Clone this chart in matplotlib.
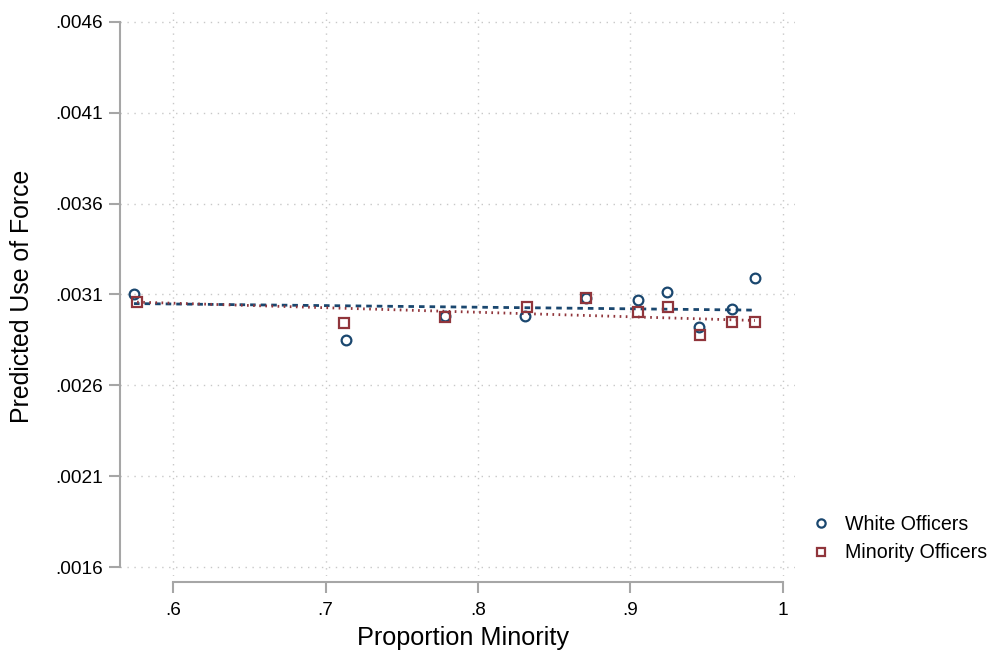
import matplotlib
matplotlib.use("Agg")
import matplotlib.pyplot as plt
import numpy as np

plt.rcParams['font.family'] = ['Liberation Sans', 'DejaVu Sans']

# Data
white_x = [0.5744, 0.7134, 0.7784, 0.8308, 0.8708, 0.9050, 0.9240, 0.9450, 0.9666, 0.9816]
white_y = [0.003102, 0.002850, 0.002979, 0.002980, 0.003083, 0.003072, 0.003113, 0.002920, 0.003022, 0.003192]
minority_x = [0.5764, 0.7121, 0.7784, 0.8321, 0.8708, 0.9050, 0.9246, 0.9456, 0.9666, 0.9816]
minority_y = [0.003058, 0.002945, 0.002978, 0.003033, 0.003083, 0.003003, 0.003030, 0.002877, 0.002950, 0.002948]

# Fitted lines (values at ends of data range)
white_fit_x = [0.5744, 0.9816]
white_fit_y = [0.003050, 0.003014]
minority_fit_x = [0.5764, 0.9816]
minority_fit_y = [0.003058, 0.002957]

xticks = [0.6, 0.7, 0.8, 0.9, 1.0]
xticklabels = ['.6', '.7', '.8', '.9', '1']
yticks = [0.0016, 0.0021, 0.0026, 0.0031, 0.0036, 0.0041, 0.0046]
yticklabels = ['.0016', '.0021', '.0026', '.0031', '.0036', '.0041', '.0046']

blue = '#1a476f'
red = '#90353b'
axis_gray = '#a6a6a6'
grid_gray = '#c8c8c8'

fig = plt.figure(figsize=(9.89, 6.56), dpi=100)
ax = fig.add_axes([120/989, 1-576/656, 675/989, 568/656])

ax.set_xlim(0.5652, 1.0079)
ax.set_ylim(0.0015505, 0.004677)

ax.set_xticks(xticks)
ax.set_xticklabels(xticklabels)
ax.set_yticks(yticks)
ax.set_yticklabels(yticklabels)

ax.grid(True, color=grid_gray, linestyle=(0, (1, 4)), linewidth=1.0)
ax.set_axisbelow(True)

for s in ['top', 'right']:
    ax.spines[s].set_visible(False)
ax.spines['left'].set_bounds(0.0016, 0.0046)
ax.spines['bottom'].set_bounds(0.6, 1.0)
ax.spines['bottom'].set_position(('outward', 4.5))
for s in ['left', 'bottom']:
    ax.spines[s].set_color(axis_gray)
    ax.spines[s].set_linewidth(1.5)

ax.tick_params(axis='both', colors=axis_gray, width=1.5, length=7.9,
               labelcolor='black', labelsize=13.7)
ax.tick_params(axis='y', pad=4.3)
ax.tick_params(axis='x', pad=6.0)

ax.plot(white_fit_x, white_fit_y, color=blue, linewidth=2.0, linestyle=(0, (2.0, 1.8)))
ax.plot(minority_fit_x, minority_fit_y, color=red, linewidth=2.0, linestyle=(0, (0.6, 1.6)))

ax.plot(white_x, white_y, linestyle='none', marker='o', markersize=7.0,
        markerfacecolor='none', markeredgecolor=blue, markeredgewidth=1.6,
        label='White Officers')
ax.plot(minority_x, minority_y, linestyle='none', marker='s', markersize=7.0,
        markerfacecolor='none', markeredgecolor=red, markeredgewidth=1.6,
        label='Minority Officers')

axb = 1-576/656
axh = 568/656
ax.set_xlabel('Proportion Minority', fontsize=18.2)
ax.xaxis.set_label_coords((463.5-120)/675, ((656-638)/656 - axb)/axh)
ax.xaxis.label.set_va('center')
ax.set_ylabel('Predicted Use of Force', fontsize=17.9)
ax.yaxis.set_label_coords((22-120)/675, ((656-296.5)/656 - axb)/axh)
ax.yaxis.label.set_va('center')

leg = fig.legend(loc='center left', bbox_to_anchor=(811.6/989, 1-538.5/656),
                 frameon=False, fontsize=14.1, handlelength=1.0,
                 handletextpad=0.72, labelspacing=0.5, borderpad=0,
                 borderaxespad=0, markerscale=0.85)

fig.savefig('out.png', dpi=100, facecolor='white')
